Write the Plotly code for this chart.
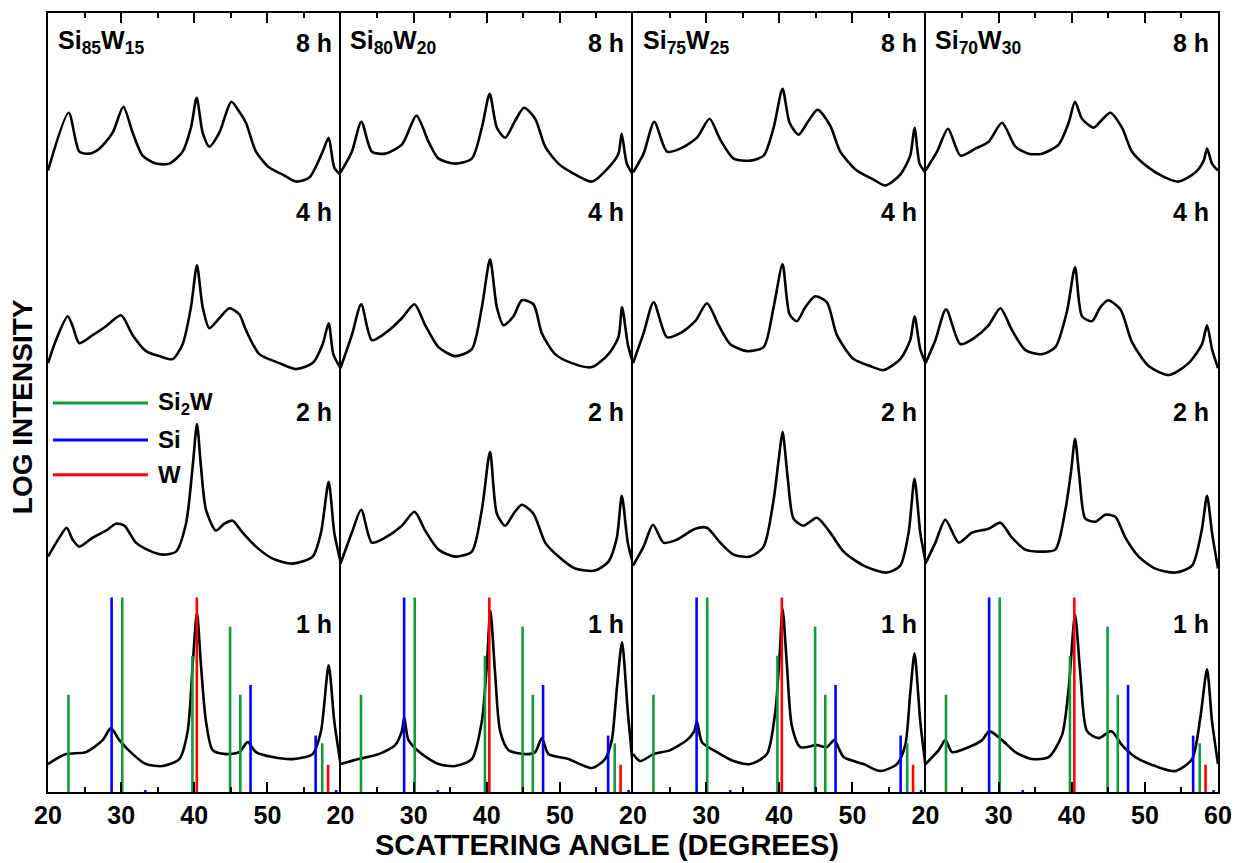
import plotly.graph_objects as go
from plotly.subplots import make_subplots

# ---- panel titles, milling times ----
alloys = ["Si<sub>85</sub>W<sub>15</sub>", "Si<sub>80</sub>W<sub>20</sub>",
          "Si<sub>75</sub>W<sub>25</sub>", "Si<sub>70</sub>W<sub>30</sub>"]
times = ["1 h", "2 h", "4 h", "8 h"]

# ---- reference stick patterns: 2-theta (deg) and relative intensity (%) ----
si2w_tt = [22.8, 30.15, 39.75, 44.9, 46.3, 57.5]
si2w_rel = [50, 100, 70, 85, 50, 25]
si_tt = [28.7, 33.3, 47.7, 56.6, 59.4]
si_rel = [100, 1, 55, 29, 1]
w_tt = [40.35, 58.3]
w_rel = [100, 14]

# ---- measured patterns (log intensity, arbitrary units) ----
# Si85W15
si85_1h_tt = [20.0, 22.46, 25.2, 27.47, 28.61, 29.75, 31.58, 33.4, 35.68, 37.96, 39.1, 39.78, 40.37, 40.92, 41.6, 42.52, 44.34, 46.16, 47.3, 48.44, 50.72, 53.46, 56.19, 57.33, 58.38, 59.15, 60.0]
si85_1h_i = [28, 38, 40, 52, 64, 52, 38, 28, 26, 33, 61, 127, 180, 127, 71, 42, 38, 40, 50, 40, 35, 33, 38, 61, 127, 71, 28]
si85_2h_tt = [20.0, 21.55, 22.55, 23.37, 24.28, 26.11, 27.93, 29.3, 30.44, 32.03, 33.86, 35.68, 37.5, 38.87, 39.78, 40.37, 40.92, 41.6, 42.97, 44.11, 45.25, 46.62, 48.44, 50.72, 53.46, 56.19, 57.33, 58.38, 59.15, 60.0]
si85_2h_i = [36, 55, 65, 53, 46, 55, 62, 69, 67, 50, 42, 38, 41, 69, 126, 169, 126, 83, 62, 69, 72, 60, 46, 34, 29, 36, 60, 111, 60, 31]
si85_4h_tt = [20.0, 21.09, 22.69, 23.37, 24.28, 26.11, 27.93, 29.98, 31.58, 33.4, 35.22, 37.05, 38.41, 39.55, 40.37, 41.15, 42.06, 43.43, 44.8, 46.16, 47.07, 48.9, 51.63, 53.91, 56.19, 57.56, 58.38, 59.02, 60.0]
si85_4h_i = [30, 53, 77, 67, 50, 58, 67, 78, 58, 42, 37, 34, 49, 86, 128, 86, 65, 75, 85, 79, 63, 39, 30, 24, 30, 49, 70, 39, 25]
si85_8h_tt = [20.0, 22.83, 24.28, 25.65, 27.02, 28.84, 30.3, 31.58, 32.94, 34.77, 36.59, 38.41, 39.55, 40.33, 41.15, 42.06, 43.43, 45.07, 46.16, 47.07, 48.44, 50.27, 52.09, 53.91, 55.73, 57.56, 58.38, 59.15, 60.0]
si85_8h_i = [23, 81, 42, 40, 45, 61, 87, 61, 38, 30, 30, 42, 66, 96, 61, 47, 61, 92, 82, 71, 42, 26, 19, 12, 16, 42, 56, 26, 19]

# Si80W20
si80_1h_tt = [20.0, 22.46, 25.2, 27.47, 28.39, 28.71, 29.3, 31.12, 33.4, 35.68, 37.96, 39.33, 40.01, 40.5, 41.15, 41.83, 42.97, 45.25, 46.62, 47.53, 48.44, 51.18, 54.37, 56.19, 57.1, 57.79, 58.5, 59.29, 60.0]
si80_1h_i = [28, 33, 38, 47, 61, 75, 52, 38, 28, 26, 33, 71, 127, 182, 118, 61, 42, 38, 40, 54, 38, 33, 24, 33, 52, 104, 150, 80, 24]
si80_2h_tt = [20.0, 21.55, 22.83, 24.28, 26.11, 28.39, 30.12, 31.58, 33.4, 35.68, 37.96, 39.33, 40.45, 41.38, 42.52, 43.66, 44.8, 46.39, 47.99, 49.81, 52.09, 54.82, 56.65, 57.79, 58.47, 59.29, 60.0]
si80_2h_i = [29, 60, 83, 50, 55, 67, 81, 62, 43, 36, 41, 83, 141, 79, 67, 79, 88, 79, 50, 36, 24, 22, 31, 55, 97, 50, 29]
si80_4h_tt = [20.0, 21.55, 22.83, 24.28, 26.11, 28.39, 30.12, 31.58, 33.4, 35.68, 37.96, 39.33, 40.45, 41.38, 42.29, 43.66, 44.8, 46.39, 47.53, 49.35, 51.63, 54.37, 56.65, 58.01, 58.5, 59.29, 60.0]
si80_4h_i = [25, 58, 89, 53, 60, 75, 89, 68, 46, 37, 44, 86, 134, 86, 68, 77, 93, 89, 60, 39, 30, 26, 39, 56, 86, 49, 30]
si80_8h_tt = [20.0, 21.55, 22.85, 24.28, 26.11, 28.39, 30.4, 32.03, 33.4, 35.68, 37.96, 39.33, 40.4, 41.38, 42.52, 43.88, 45.1, 46.62, 47.99, 49.81, 51.63, 54.37, 56.65, 58.01, 58.45, 59.15, 60.0]
si80_8h_i = [21, 42, 72, 42, 40, 49, 78, 52, 35, 30, 35, 66, 100, 66, 56, 73, 86, 75, 47, 30, 21, 12, 26, 40, 60, 30, 19]

# Si75W25
si75_1h_tt = [20.0, 20.99, 22.82, 25.1, 27.37, 28.38, 28.74, 29.43, 31.48, 33.76, 36.04, 38.31, 39.45, 40.05, 40.45, 41.05, 41.73, 42.87, 45.15, 46.52, 47.52, 48.8, 51.53, 53.81, 56.09, 57.23, 57.91, 58.5, 59.28, 60.0]
si75_1h_i = [38, 31, 38, 42, 52, 61, 71, 50, 40, 31, 28, 38, 80, 137, 184, 127, 66, 45, 47, 45, 52, 35, 28, 21, 28, 47, 99, 139, 71, 26]
si75_2h_tt = [20.0, 21.45, 22.73, 24.18, 26.01, 28.51, 30.11, 31.93, 33.76, 36.04, 37.86, 39.23, 39.95, 40.45, 41.14, 41.96, 43.33, 45.15, 46.97, 48.8, 51.53, 54.72, 56.55, 57.69, 58.5, 59.28, 60.0]
si75_2h_i = [27, 46, 68, 50, 53, 64, 65, 50, 38, 36, 46, 93, 135, 161, 116, 74, 67, 75, 60, 41, 27, 20, 27, 60, 114, 60, 31]
si75_4h_tt = [20.0, 21.45, 22.82, 24.64, 26.46, 28.51, 30.11, 31.71, 33.3, 35.58, 37.86, 39.23, 40.45, 41.41, 42.42, 43.56, 44.92, 46.52, 47.89, 50.17, 52.44, 54.27, 56.55, 57.91, 58.5, 59.28, 60.0]
si75_4h_i = [30, 60, 91, 56, 60, 72, 90, 68, 49, 42, 46, 86, 129, 79, 72, 86, 97, 91, 58, 34, 27, 23, 34, 53, 77, 44, 30]
si75_8h_tt = [20.0, 21.45, 22.91, 24.64, 26.46, 28.74, 30.47, 31.93, 33.76, 36.04, 37.86, 39.23, 40.45, 41.41, 42.64, 44.01, 45.24, 46.97, 48.34, 50.62, 52.9, 54.5, 56.55, 57.91, 58.5, 59.19, 60.0]
si75_8h_i = [21, 40, 72, 42, 45, 56, 75, 54, 35, 33, 38, 66, 105, 71, 59, 73, 84, 68, 42, 23, 14, 8, 19, 38, 66, 30, 21]

# Si70W30
si70_1h_tt = [20.0, 21.8, 22.72, 23.63, 25.91, 27.73, 28.73, 30.47, 32.29, 34.57, 36.85, 38.67, 39.58, 40.45, 41.18, 42.09, 43.68, 45.42, 46.87, 48.7, 51.43, 54.17, 56.45, 57.59, 58.5, 59.18, 60.0]
si70_1h_i = [28, 42, 52, 40, 45, 52, 61, 52, 40, 33, 35, 57, 104, 178, 118, 61, 54, 61, 47, 35, 26, 21, 33, 75, 123, 71, 28]
si70_2h_tt = [20.0, 21.35, 22.72, 24.54, 26.36, 28.64, 30.24, 31.83, 33.66, 35.94, 37.76, 39.13, 39.9, 40.45, 41.04, 41.86, 43.23, 44.6, 45.96, 47.33, 49.15, 51.43, 54.17, 56.45, 57.81, 58.5, 59.18, 60.0]
si70_2h_i = [29, 50, 73, 50, 60, 64, 70, 55, 43, 41, 43, 83, 121, 154, 116, 74, 71, 78, 76, 55, 36, 24, 20, 27, 64, 97, 60, 24]
si70_4h_tt = [20.0, 21.35, 22.81, 24.77, 26.82, 28.64, 30.24, 31.83, 33.66, 35.94, 37.76, 39.35, 40.45, 41.4, 42.77, 43.91, 44.96, 46.65, 48.24, 50.52, 53.26, 55.99, 57.81, 58.5, 59.18, 60.0]
si70_4h_i = [30, 53, 84, 49, 56, 68, 85, 63, 43, 39, 46, 82, 126, 77, 72, 86, 93, 84, 51, 27, 18, 30, 49, 68, 44, 25]
si70_8h_tt = [20.0, 21.58, 23.08, 24.77, 26.82, 28.64, 30.47, 32.29, 34.11, 35.94, 38.21, 39.58, 40.45, 41.4, 43.0, 44.14, 45.28, 46.87, 48.24, 50.52, 52.8, 54.62, 56.9, 58.04, 58.5, 59.18, 60.0]
si70_8h_i = [23, 42, 65, 38, 45, 52, 71, 47, 40, 40, 49, 71, 92, 75, 66, 74, 81, 66, 42, 26, 16, 12, 21, 33, 45, 30, 23]

patterns = [
    [(si85_1h_tt, si85_1h_i), (si85_2h_tt, si85_2h_i), (si85_4h_tt, si85_4h_i), (si85_8h_tt, si85_8h_i)],
    [(si80_1h_tt, si80_1h_i), (si80_2h_tt, si80_2h_i), (si80_4h_tt, si80_4h_i), (si80_8h_tt, si80_8h_i)],
    [(si75_1h_tt, si75_1h_i), (si75_2h_tt, si75_2h_i), (si75_4h_tt, si75_4h_i), (si75_8h_tt, si75_8h_i)],
    [(si70_1h_tt, si70_1h_i), (si70_2h_tt, si70_2h_i), (si70_4h_tt, si70_4h_i), (si70_8h_tt, si70_8h_i)],
]

# vertical stacking of the milling-time patterns, and label heights
stack_offset = [0, 200, 400, 600]
time_label_y = [168, 381, 581, 751]
stick_scale = 1.95          # 100 % stick height in plot units
y_top = 781

GREEN, BLUE, RED = "#119a3a", "#0000ff", "#ff0000"
FONT = "Liberation Sans, Arial, sans-serif"

fig = make_subplots(rows=1, cols=4, horizontal_spacing=0, shared_yaxes=False)


def sticks(tt, rel):
    xs, ys = [], []
    for t, r in zip(tt, rel):
        xs += [t, t, None]
        ys += [0, r * stick_scale, None]
    return xs, ys


for c in range(4):
    col = c + 1
    for k, (tt, inten) in enumerate(patterns[c]):
        fig.add_trace(go.Scatter(
            x=tt, y=[v + stack_offset[k] for v in inten], mode="lines",
            line=dict(color="black", width=2.6, shape="spline", smoothing=0.7),
            showlegend=False, hoverinfo="skip"), row=1, col=col)
    for tt, rel, colr in [(si2w_tt, si2w_rel, GREEN), (si_tt, si_rel, BLUE), (w_tt, w_rel, RED)]:
        xs, ys = sticks(tt, rel)
        fig.add_trace(go.Scatter(
            x=xs, y=ys, mode="lines", line=dict(color=colr, width=2.6),
            showlegend=False, hoverinfo="skip"), row=1, col=col)

    last = c == 3
    fig.update_xaxes(
        row=1, col=col, range=[20, 60],
        tickvals=[20, 30, 40, 50, 60],
        ticktext=["20", "30", "40", "50", "60" if last else ""],
        ticks="inside", ticklen=10, tickwidth=2, tickcolor="black",
        minor=dict(dtick=5, tick0=20, ticks="inside", ticklen=5, tickwidth=2, tickcolor="black"),
        showline=True, linewidth=2, linecolor="black", mirror="ticks",
        showgrid=False, zeroline=False,
        tickfont=dict(family=FONT, size=25, color="black", weight="bold"))
    # each panel draws only its left frame line; the last one also closes the right side
    fig.update_yaxes(
        row=1, col=col, range=[0, y_top], showticklabels=False, ticks="",
        showline=True, linewidth=2, linecolor="black", mirror=last,
        showgrid=False, zeroline=False)

    xr = "x domain" if c == 0 else f"x{col} domain"
    yr = "y" if c == 0 else f"y{col}"
    fig.add_annotation(xref=xr, yref=yr, x=0.027, y=752, text=alloys[c],
                       showarrow=False, xanchor="left", yanchor="middle",
                       font=dict(family=FONT, size=25, color="black", weight="bold"))
    for lbl, yl in zip(times, time_label_y):
        fig.add_annotation(xref=xr, yref=yr, x=1, y=yl, text=lbl, xshift=-7,
                           showarrow=False, xanchor="right", yanchor="middle",
                           font=dict(family=FONT, size=25, color="black", weight="bold"))

# legend keys drawn in the first panel
legend_items = [("Si<sub>2</sub>W", GREEN, 390), ("Si", BLUE, 353), ("W", RED, 318)]
for txt, colr, yl in legend_items:
    fig.add_shape(type="line", xref="x domain", yref="y", x0=0.017, x1=0.342,
                  y0=yl, y1=yl, line=dict(color=colr, width=3))
    fig.add_annotation(xref="x domain", yref="y", x=0.37, y=yl, text=txt,
                       showarrow=False, xanchor="left", yanchor="middle",
                       font=dict(family=FONT, size=24, color="black", weight="bold"))

# axis titles
fig.add_annotation(xref="paper", yref="paper", x=0.478, y=-0.068,
                   text="SCATTERING ANGLE (DEGREES)", showarrow=False,
                   xanchor="center", yanchor="middle",
                   font=dict(family=FONT, size=29, color="black", weight="bold"))
fig.add_annotation(xref="paper", yref="paper", x=-0.0222, y=0.494,
                   text="LOG INTENSITY", showarrow=False, textangle=-90,
                   xanchor="center", yanchor="middle",
                   font=dict(family=FONT, size=28, color="black", weight="bold"))

fig.update_layout(
    width=1244, height=863,
    margin=dict(l=48, r=26, t=11, b=71),
    paper_bgcolor="white", plot_bgcolor="white",
    showlegend=False,
)

fig.write_html("out.html")
